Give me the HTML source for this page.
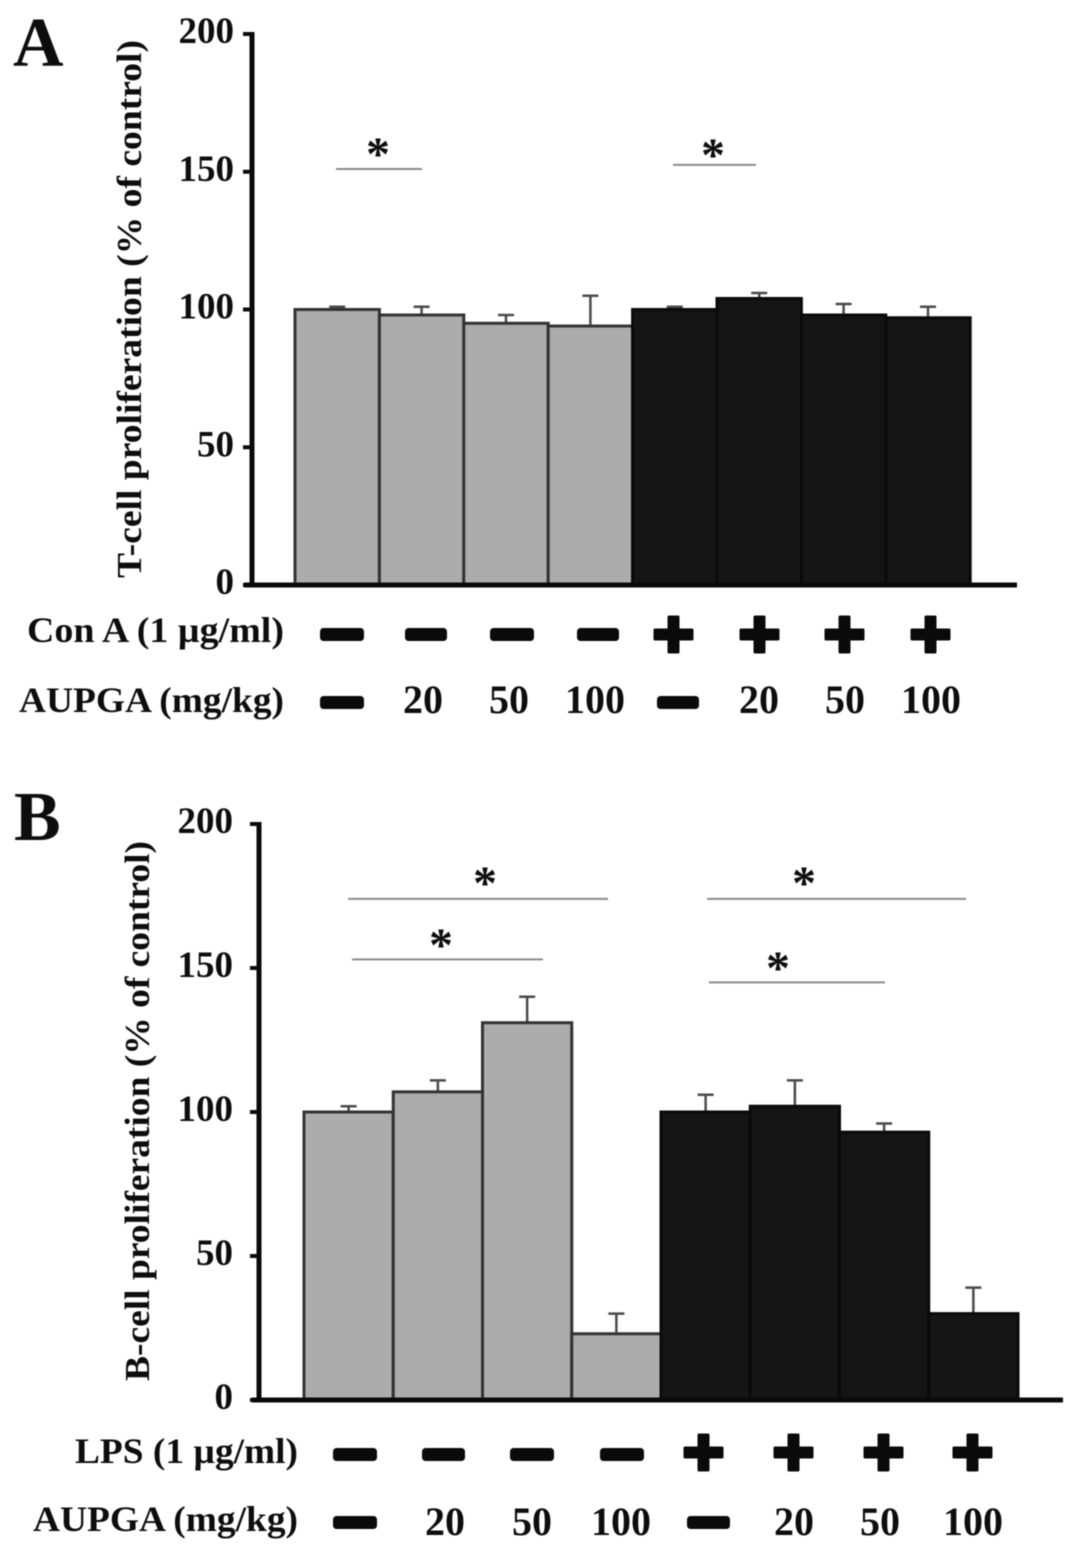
<!DOCTYPE html>
<html lang="en">
<head>
<meta charset="utf-8">
<title>T-cell and B-cell proliferation</title>
<style>
html,body{margin:0;padding:0;background:#fff;width:1087px;height:1553px;overflow:hidden}
svg{display:block;filter:blur(0.6px)}
text{font-family:"Liberation Serif",serif;font-weight:bold;fill:#0d0d0d}
.row{font-size:36px;text-anchor:end}
.num{font-size:40px;text-anchor:middle}
.tick{font-size:37px;text-anchor:end}
.ytitle{font-size:35px;text-anchor:middle}
.star{font-size:48px;text-anchor:middle;font-weight:bold}
.letter{font-size:70px}
</style>
</head>
<body>
<svg id="figure" width="1087" height="1553" viewBox="0 0 1087 1553" xmlns="http://www.w3.org/2000/svg">
  <rect width="1087" height="1553" fill="#fff"/>
  <text class="letter" x="13" y="66">A</text>
  <text class="letter" x="14" y="840">B</text>

  <text class="ytitle" transform="translate(141,309) rotate(-90)" textLength="538" lengthAdjust="spacingAndGlyphs">T-cell proliferation (% of control)</text>
  <text class="ytitle" transform="translate(149,1111) rotate(-90)" textLength="540" lengthAdjust="spacingAndGlyphs">B-cell proliferation (% of control)</text>

  <g id="panel-a"></g>
  <g id="panel-b"></g>

  <g>
    <text class="row" x="284" y="642" textLength="257" lengthAdjust="spacingAndGlyphs">Con A (1 µg/ml)</text>
    <text class="row" x="284" y="712" textLength="265" lengthAdjust="spacingAndGlyphs">AUPGA (mg/kg)</text>
    <g fill="#0a0a0a">
      <rect x="320" y="628" width="44" height="13" rx="3.5"/><rect x="405" y="628" width="42" height="13" rx="3.5"/><rect x="490" y="628" width="44" height="13" rx="3.5"/><rect x="577" y="628" width="42" height="13" rx="3.5"/>
      <g stroke="#0a0a0a" stroke-width="3" stroke-linejoin="round">
      <path d="M669 617h9v13h14v9h-14v13h-9v-13h-14v-9h14z"/><path d="M755 617h9v13h14v9h-14v13h-9v-13h-14v-9h14z"/><path d="M840 617h9v13h14v9h-14v13h-9v-13h-14v-9h14z"/><path d="M926 617h9v13h14v9h-14v13h-9v-13h-14v-9h14z"/>
      </g>
    </g>
    <rect x="320" y="696" width="44" height="13" rx="3.5" fill="#0a0a0a"/>
    <text class="num" x="423" y="713">20</text>
    <text class="num" x="509" y="713">50</text>
    <text class="num" x="595" y="713">100</text>
    <rect x="657" y="696" width="42" height="13" rx="3.5" fill="#0a0a0a"/>
    <text class="num" x="759" y="713">20</text>
    <text class="num" x="845" y="713">50</text>
    <text class="num" x="931" y="713">100</text>
  </g>

  <g>
    <text class="row" x="298" y="1463" textLength="223" lengthAdjust="spacingAndGlyphs">LPS (1 µg/ml)</text>
    <text class="row" x="298" y="1531" textLength="265" lengthAdjust="spacingAndGlyphs">AUPGA (mg/kg)</text>
    <g fill="#0a0a0a">
      <rect x="333" y="1448" width="44" height="13" rx="3.5"/><rect x="422" y="1448" width="43" height="13" rx="3.5"/><rect x="510" y="1448" width="44" height="13" rx="3.5"/><rect x="600" y="1448" width="44" height="13" rx="3.5"/>
      <g stroke="#0a0a0a" stroke-width="3" stroke-linejoin="round">
      <path d="M699 1435h9v13h14v9h-14v13h-9v-13h-14v-9h14z"/><path d="M789 1435h9v13h14v9h-14v13h-9v-13h-14v-9h14z"/><path d="M879 1435h9v13h14v9h-14v13h-9v-13h-14v-9h14z"/><path d="M968 1435h9v13h14v9h-14v13h-9v-13h-14v-9h14z"/>
      </g>
    </g>
    <rect x="333" y="1516" width="44" height="13" rx="3.5" fill="#0a0a0a"/>
    <text class="num" x="445" y="1535">20</text>
    <text class="num" x="532" y="1535">50</text>
    <text class="num" x="621" y="1535">100</text>
    <rect x="687" y="1516" width="43" height="13" rx="3.5" fill="#0a0a0a"/>
    <text class="num" x="794" y="1535">20</text>
    <text class="num" x="880" y="1535">50</text>
    <text class="num" x="973" y="1535">100</text>
  </g>
</svg>
<script>
const categories = ['none', '20', '50', '100', 'stim-none', 'stim-20', 'stim-50', 'stim-100'];
const tickValues = [0, 50, 100, 150, 200];
const tickLabels = ['0', '50', '100', '150', '200'];
const panelAValues = [100, 98, 95, 94, 100, 104, 98, 97];
const panelAErrorTops = [101, 101, 98, 105, 101, 106, 102, 101];
const panelBValues = [100, 107, 131, 23, 100, 102, 93, 30];
const panelBErrorTops = [102, 111, 140, 30, 106, 111, 96, 39];

const NS = 'http://www.w3.org/2000/svg';

function add(parent, tag) {
  const el = document.createElementNS(NS, tag);
  parent.appendChild(el);
  return el;
}

function line(parent, x1, y1, x2, y2, color, width) {
  const el = add(parent, 'line');
  el.setAttribute('x1', x1);
  el.setAttribute('y1', y1);
  el.setAttribute('x2', x2);
  el.setAttribute('y2', y2);
  el.setAttribute('stroke', color);
  el.setAttribute('stroke-width', width);
  return el;
}

function drawPanel(group, prefix, values, errorTops, xOf, yOf, barWidth, axisX, axisLeft, axisRight, tickTextX) {
  values.forEach(function (value, i) {
    const grey = i < 4;
    const left = xOf(i);
    const top = yOf(value);

    const errStem = line(group, left + barWidth / 2, yOf(errorTops[i]), left + barWidth / 2, top, '#4a4a4a', 2.5);
    
    

    const errCap = line(group, left + barWidth / 2 - 8, yOf(errorTops[i]), left + barWidth / 2 + 8, yOf(errorTops[i]), '#4a4a4a', 2.5);
    
    

    const bar = add(group, 'rect');
    bar.setAttribute('x', left);
    bar.setAttribute('y', top);
    bar.setAttribute('width', barWidth);
    bar.setAttribute('height', yOf(0) - top);
    bar.setAttribute('fill', grey ? '#acacac' : '#151515');
    bar.setAttribute('stroke', grey ? '#333' : '#0a0a0a');
    bar.setAttribute('stroke-width', '3');
    
    
  });

  const yAxis = line(group, axisX, yOf(200) - 2, axisX, yOf(0) + 2, '#0a0a0a', 5);
  
  

  const xAxis = line(group, axisLeft, yOf(0), axisRight, yOf(0), '#0a0a0a', 5);
  
  

  tickValues.forEach(function (tick, i) {
    const mark = line(group, axisX - 9, yOf(tick), axisX, yOf(tick), '#0a0a0a', 4);
    
    

    const label = add(group, 'text');
    label.setAttribute('class', 'tick');
    label.setAttribute('x', tickTextX);
    label.setAttribute('y', yOf(tick) + 9);
    label.textContent = tickLabels[i];
    
    
  });
}

function significance(group, name, x1, x2, level, yOf, starX, starBaseline) {
  const bracket = line(group, x1, yOf(level), x2, yOf(level), '#8a8a8a', 2);
  
  

  const star = add(group, 'text');
  star.setAttribute('class', 'star');
  star.setAttribute('x', starX);
  star.setAttribute('y', starBaseline);
  star.textContent = '*';
  
  
}

const xA = function (i) { return 295 + i * 84.4; };
const yA = function (v) { return 585 - v * 2.755; };
const xB = function (i) { return 304 + i * 89.25; };
const yB = function (v) { return 1400 - v * 2.88; };

const panelA = document.getElementById('panel-a');
const panelB = document.getElementById('panel-b');

drawPanel(panelA, 'panel-a', panelAValues, panelAErrorTops, xA, yA, 84.4, 252, 244, 1017, 234);
drawPanel(panelB, 'panel-b', panelBValues, panelBErrorTops, xB, yB, 89.25, 259, 252, 1063, 233);

significance(panelA, 'panel-a-significance-left', 336, 422, 151, yA, 378, 170);
significance(panelA, 'panel-a-significance-right', 673, 756, 152.5, yA, 713, 171);
significance(panelB, 'panel-b-significance-upper-left', 348, 608, 174, yB, 485, 899);
significance(panelB, 'panel-b-significance-lower-left', 352, 543, 153, yB, 441, 961);
significance(panelB, 'panel-b-significance-upper-right', 707, 966, 174, yB, 804, 899);
significance(panelB, 'panel-b-significance-lower-right', 709, 885, 145, yB, 778, 984);
</script>
</body>
</html>
